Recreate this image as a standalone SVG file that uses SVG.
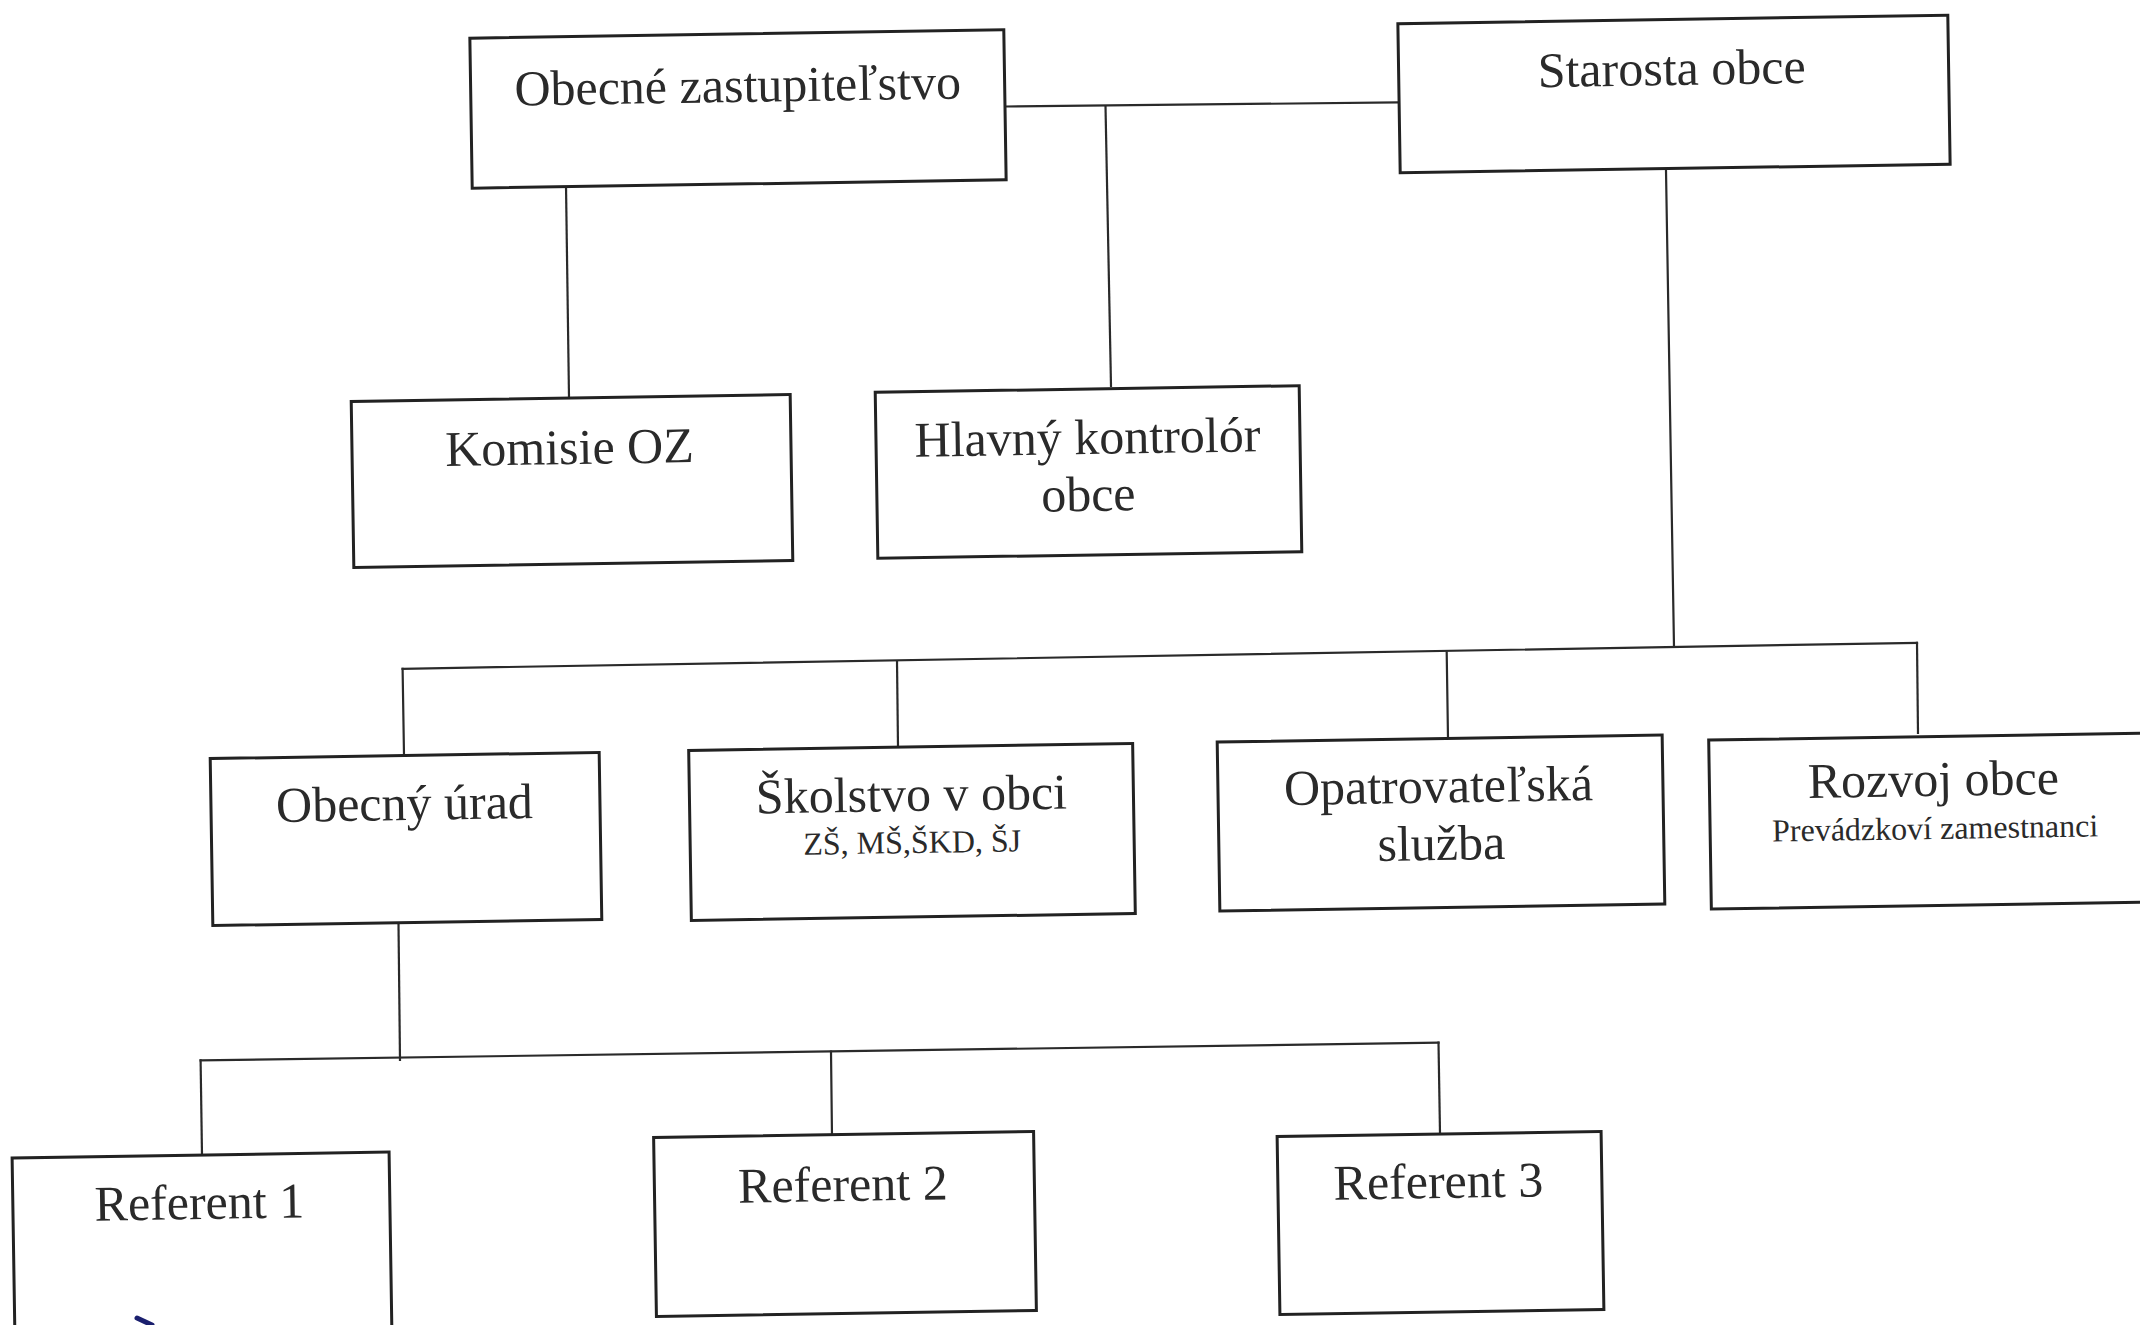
<svg xmlns="http://www.w3.org/2000/svg" width="2140" height="1325" viewBox="0 0 2140 1325">
<style>
.box{fill:#fff;stroke:#222;stroke-width:3}
.t{font-family:"Liberation Serif","Times New Roman",serif;font-size:50px;fill:#2a2a2a;text-anchor:middle}
.s{font-size:32px}
.c{stroke:#2a2a2a;stroke-width:2.2;fill:none;stroke-linecap:square}
</style>
<rect width="2140" height="1325" fill="#fff"/>
<g id="connectors">
<line class="c" x1="1006" y1="106.5" x2="1397.5" y2="102.4"/>
<line class="c" x1="1105.5" y1="106" x2="1111" y2="386"/>
<line class="c" x1="566" y1="185.6" x2="569" y2="397"/>
<line class="c" x1="1666" y1="170.6" x2="1674" y2="647"/>
<line class="c" x1="402.6" y1="668.8" x2="1917" y2="642.8"/>
<line class="c" x1="402.6" y1="668.8" x2="404" y2="755"/>
<line class="c" x1="897" y1="661" x2="898" y2="746.5"/>
<line class="c" x1="1446.7" y1="652.4" x2="1448" y2="738.5"/>
<line class="c" x1="1917" y1="642.8" x2="1918" y2="733"/>
<line class="c" x1="398.5" y1="924" x2="400" y2="1060"/>
<line class="c" x1="200.6" y1="1060.4" x2="1438.5" y2="1042.7"/>
<line class="c" x1="200.6" y1="1060.4" x2="202" y2="1155"/>
<line class="c" x1="831" y1="1051.5" x2="832" y2="1136"/>
<line class="c" x1="1438.5" y1="1042.7" x2="1440" y2="1133"/>
</g>
<g id="oz" transform="rotate(-0.9 738 109)">
<rect class="box" x="471" y="34" width="534" height="150"/>
<text class="t" x="738" y="102">Obecné zastupiteľstvo</text>
</g>
<g id="starosta" transform="rotate(-0.9 1674 94)">
<rect class="box" x="1399" y="19.5" width="550" height="149"/>
<text class="t" x="1672" y="85">Starosta obce</text>
</g>
<g id="komisie" transform="rotate(-0.9 572 481)">
<rect class="box" x="352.5" y="398" width="439" height="166"/>
<text class="t" x="570" y="464">Komisie OZ</text>
</g>
<g id="kontrolor" transform="rotate(-0.9 1088.5 472)">
<rect class="box" x="876.5" y="389" width="424" height="166"/>
<text class="t" x="1088" y="454">Hlavný kontrolór</text>
<text class="t" x="1088" y="511">obce</text>
</g>
<g id="urad" transform="rotate(-0.9 406 839)">
<rect class="box" x="211.5" y="755.5" width="389" height="167"/>
<text class="t" x="405" y="820">Obecný úrad</text>
</g>
<g id="skolstvo" transform="rotate(-0.9 912 832)">
<rect class="box" x="690" y="747" width="444" height="170"/>
<text class="t" x="912" y="811">Školstvo v obci</text>
<text class="t s" x="912" y="853">ZŠ, MŠ,ŠKD, ŠJ</text>
</g>
<g id="opatrovatelska" transform="rotate(-0.9 1441 823)">
<rect class="box" x="1218.5" y="738.5" width="445" height="169"/>
<text class="t" x="1439" y="802.5">Opatrovateľská</text>
<text class="t" x="1441" y="860">služba</text>
</g>
<g id="rozvoj" transform="rotate(-0.9 1934 821)">
<rect class="box" x="1710" y="736.5" width="448" height="169"/>
<text class="t" x="1934" y="796">Rozvoj obce</text>
<text class="t s" x="1935" y="839">Prevádzkoví zamestnanci</text>
</g>
<g id="referent1" transform="rotate(-0.9 202 1245)">
<rect class="box" x="13.5" y="1155" width="377" height="180"/>
<text class="t" x="200" y="1219">Referent 1</text>
</g>
<g id="referent2" transform="rotate(-0.9 845 1224)">
<rect class="box" x="655" y="1134.5" width="380" height="179"/>
<text class="t" x="843.5" y="1201">Referent 2</text>
</g>
<g id="referent3" transform="rotate(-0.9 1440.5 1223)">
<rect class="box" x="1278.5" y="1134" width="324" height="178"/>
<text class="t" x="1439" y="1198">Referent 3</text>
</g>
<path d="M137 1318 L152 1325" stroke="#1a1f6e" stroke-width="5" fill="none" stroke-linecap="round"/>
</svg>
